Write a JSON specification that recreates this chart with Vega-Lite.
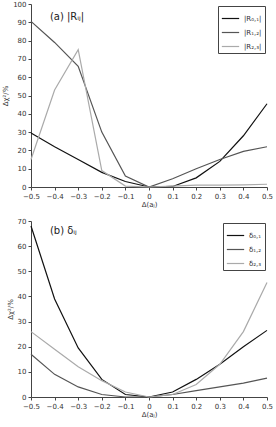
{
  "$schema": "https://vega.github.io/schema/vega-lite/v6.json",
  "padding": {"left": 1, "top": 0, "right": 6, "bottom": 2},
  "spacing": 10,
  "background": "white",
  "config": {
    "view": {"stroke": null},
    "font": "DejaVu Sans",
    "axis": {"grid": false, "domainColor": "#444", "tickColor": "#444", "labelFontSize": 7, "labelColor": "#333", "titleFontSize": 7, "titleFontWeight": "normal", "titleColor": "#333", "tickSize": 3, "labelOverlap": false, "labelFlush": false},
    "legend": {"labelFontSize": 7, "labelColor": "#333", "strokeColor": "#444", "padding": 3, "symbolType": "stroke", "symbolSize": 300, "symbolStrokeWidth": 1.2, "rowPadding": 1, "title": null, "orient": "top-right", "offset": 2}
  },
  "datasets": {
    "a": [
      {"x": -0.5, "y": 29.5, "s": "|R₀,₁|"}, {"x": -0.4, "y": 22, "s": "|R₀,₁|"}, {"x": -0.3, "y": 15, "s": "|R₀,₁|"}, {"x": -0.2, "y": 8, "s": "|R₀,₁|"}, {"x": -0.1, "y": 3, "s": "|R₀,₁|"}, {"x": 0, "y": 0, "s": "|R₀,₁|"}, {"x": 0.1, "y": 0.3, "s": "|R₀,₁|"}, {"x": 0.2, "y": 5, "s": "|R₀,₁|"}, {"x": 0.3, "y": 14, "s": "|R₀,₁|"}, {"x": 0.4, "y": 28, "s": "|R₀,₁|"}, {"x": 0.5, "y": 45.5, "s": "|R₀,₁|"},
      {"x": -0.5, "y": 90.5, "s": "|R₁,₂|"}, {"x": -0.4, "y": 79, "s": "|R₁,₂|"}, {"x": -0.3, "y": 66, "s": "|R₁,₂|"}, {"x": -0.2, "y": 30, "s": "|R₁,₂|"}, {"x": -0.1, "y": 6, "s": "|R₁,₂|"}, {"x": 0, "y": 0, "s": "|R₁,₂|"}, {"x": 0.1, "y": 4.5, "s": "|R₁,₂|"}, {"x": 0.2, "y": 10, "s": "|R₁,₂|"}, {"x": 0.3, "y": 15, "s": "|R₁,₂|"}, {"x": 0.4, "y": 19.5, "s": "|R₁,₂|"}, {"x": 0.5, "y": 22, "s": "|R₁,₂|"},
      {"x": -0.5, "y": 15, "s": "|R₂,₃|"}, {"x": -0.4, "y": 53, "s": "|R₂,₃|"}, {"x": -0.3, "y": 75, "s": "|R₂,₃|"}, {"x": -0.2, "y": 9, "s": "|R₂,₃|"}, {"x": -0.1, "y": 0.5, "s": "|R₂,₃|"}, {"x": 0, "y": 0, "s": "|R₂,₃|"}, {"x": 0.1, "y": 0.5, "s": "|R₂,₃|"}, {"x": 0.2, "y": 1, "s": "|R₂,₃|"}, {"x": 0.3, "y": 1, "s": "|R₂,₃|"}, {"x": 0.4, "y": 1.2, "s": "|R₂,₃|"}, {"x": 0.5, "y": 1.5, "s": "|R₂,₃|"}
    ],
    "b": [
      {"x": -0.5, "y": 68, "s": "δ₀,₁"}, {"x": -0.4, "y": 39, "s": "δ₀,₁"}, {"x": -0.3, "y": 19.5, "s": "δ₀,₁"}, {"x": -0.2, "y": 7, "s": "δ₀,₁"}, {"x": -0.1, "y": 1, "s": "δ₀,₁"}, {"x": 0, "y": 0, "s": "δ₀,₁"}, {"x": 0.1, "y": 2, "s": "δ₀,₁"}, {"x": 0.2, "y": 7, "s": "δ₀,₁"}, {"x": 0.3, "y": 13, "s": "δ₀,₁"}, {"x": 0.4, "y": 20, "s": "δ₀,₁"}, {"x": 0.5, "y": 26.5, "s": "δ₀,₁"},
      {"x": -0.5, "y": 17, "s": "δ₁,₂"}, {"x": -0.4, "y": 9, "s": "δ₁,₂"}, {"x": -0.3, "y": 4, "s": "δ₁,₂"}, {"x": -0.2, "y": 1, "s": "δ₁,₂"}, {"x": -0.1, "y": 0, "s": "δ₁,₂"}, {"x": 0, "y": 0, "s": "δ₁,₂"}, {"x": 0.1, "y": 1, "s": "δ₁,₂"}, {"x": 0.2, "y": 2.5, "s": "δ₁,₂"}, {"x": 0.3, "y": 4, "s": "δ₁,₂"}, {"x": 0.4, "y": 5.5, "s": "δ₁,₂"}, {"x": 0.5, "y": 7.5, "s": "δ₁,₂"},
      {"x": -0.5, "y": 26, "s": "δ₂,₃"}, {"x": -0.4, "y": 19, "s": "δ₂,₃"}, {"x": -0.3, "y": 12, "s": "δ₂,₃"}, {"x": -0.2, "y": 6.5, "s": "δ₂,₃"}, {"x": -0.1, "y": 2, "s": "δ₂,₃"}, {"x": 0, "y": 0, "s": "δ₂,₃"}, {"x": 0.1, "y": 1, "s": "δ₂,₃"}, {"x": 0.2, "y": 5, "s": "δ₂,₃"}, {"x": 0.3, "y": 13, "s": "δ₂,₃"}, {"x": 0.4, "y": 26, "s": "δ₂,₃"}, {"x": 0.5, "y": 45.5, "s": "δ₂,₃"}
    ],
    "ta": [{"x": -0.42, "y": 93, "t": "(a) |Rᵢⱼ|"}],
    "tb": [{"x": -0.42, "y": 66, "t": "(b) δᵢⱼ"}]
  },
  "vconcat": [
    {
      "width": 236, "height": 183,
      "layer": [
        {
          "data": {"name": "a"},
          "mark": {"type": "line", "strokeWidth": 1.2},
          "encoding": {
            "x": {"field": "x", "type": "quantitative", "scale": {"domain": [-0.5, 0.5], "nice": false}, "axis": {"values": [-0.5, -0.4, -0.3, -0.2, -0.1, 0, 0.1, 0.2, 0.3, 0.4, 0.5], "labelOverlap": false, "labelExpr": "replace(format(datum.value, '.1~f'), '-', '−')", "title": "Δ(aⱼ)", "titlePadding": 1}},
            "y": {"field": "y", "type": "quantitative", "scale": {"domain": [0, 100], "nice": false}, "axis": {"values": [0, 10, 20, 30, 40, 50, 60, 70, 80, 90, 100], "labelOverlap": false, "title": "Δχ²/%", "titlePadding": 4}},
            "color": {"field": "s", "type": "nominal", "scale": {"domain": ["|R₀,₁|", "|R₁,₂|", "|R₂,₃|"], "range": ["#111111", "#555555", "#aaaaaa"]}}
          }
        },
        {
          "data": {"name": "ta"},
          "mark": {"type": "text", "align": "left", "fontSize": 10, "color": "#222"},
          "encoding": {
            "x": {"field": "x", "type": "quantitative", "axis": {"values": [-0.5, -0.4, -0.3, -0.2, -0.1, 0, 0.1, 0.2, 0.3, 0.4, 0.5], "labelOverlap": false, "labelExpr": "replace(format(datum.value, '.1~f'), '-', '−')", "title": "Δ(aⱼ)", "titlePadding": 1}},
            "y": {"field": "y", "type": "quantitative", "axis": {"values": [0, 10, 20, 30, 40, 50, 60, 70, 80, 90, 100], "labelOverlap": false, "title": "Δχ²/%", "titlePadding": 4}},
            "text": {"field": "t"}
          }
        }
      ]
    },
    {
      "width": 236, "height": 176,
      "layer": [
        {
          "data": {"name": "b"},
          "mark": {"type": "line", "strokeWidth": 1.2},
          "encoding": {
            "x": {"field": "x", "type": "quantitative", "scale": {"domain": [-0.5, 0.5], "nice": false}, "axis": {"values": [-0.5, -0.4, -0.3, -0.2, -0.1, 0, 0.1, 0.2, 0.3, 0.4, 0.5], "labelOverlap": false, "labelExpr": "replace(format(datum.value, '.1~f'), '-', '−')", "title": "Δ(aⱼ)", "titlePadding": 1}},
            "y": {"field": "y", "type": "quantitative", "scale": {"domain": [0, 70], "nice": false}, "axis": {"values": [0, 10, 20, 30, 40, 50, 60, 70], "labelOverlap": false, "title": "Δχ²/%", "titlePadding": 4}},
            "color": {"field": "s", "type": "nominal", "scale": {"domain": ["δ₀,₁", "δ₁,₂", "δ₂,₃"], "range": ["#111111", "#555555", "#aaaaaa"]}}
          }
        },
        {
          "data": {"name": "tb"},
          "mark": {"type": "text", "align": "left", "fontSize": 10, "color": "#222"},
          "encoding": {
            "x": {"field": "x", "type": "quantitative", "axis": {"values": [-0.5, -0.4, -0.3, -0.2, -0.1, 0, 0.1, 0.2, 0.3, 0.4, 0.5], "labelOverlap": false, "labelExpr": "replace(format(datum.value, '.1~f'), '-', '−')", "title": "Δ(aⱼ)", "titlePadding": 1}},
            "y": {"field": "y", "type": "quantitative", "axis": {"values": [0, 10, 20, 30, 40, 50, 60, 70], "labelOverlap": false, "title": "Δχ²/%", "titlePadding": 4}},
            "text": {"field": "t"}
          }
        }
      ]
    }
  ],
  "resolve": {"scale": {"color": "independent"}, "legend": {"color": "independent"}}
}
